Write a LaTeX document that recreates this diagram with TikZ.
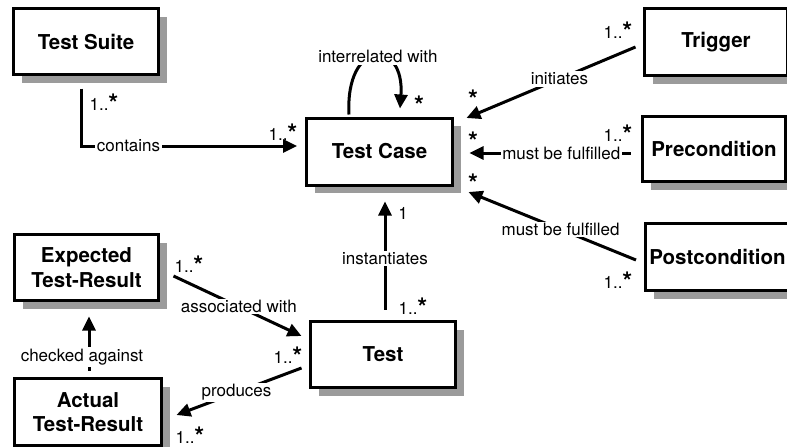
\documentclass[tikz,border=0pt]{standalone}
\usepackage{fontspec}
\setmainfont{TeX Gyre Heros}
\usetikzlibrary{arrows.meta,calc,shadows}
\definecolor{shadowgray}{RGB}{155,155,155}
\newcommand{\manystar}{\raisebox{-2.5pt}[\height][0pt]{\scalebox{1.5}{\bfseries *}}}
\begin{document}
\begin{tikzpicture}[x=1pt,y=-1pt,
  box/.style={draw, line width=3pt, fill=white, align=center,
    font=\fontsize{20.5}{24.5}\selectfont\bfseries,
    drop shadow={shadow xshift=8pt, shadow yshift=-8pt, fill=shadowgray, opacity=1}},
  conn/.style={line width=3pt, -{Triangle[length=14pt,width=13pt]}},
  lbl/.style={fill=white, inner sep=1.5pt, font=\fontsize{17}{20}\selectfont},
  mult/.style={inner sep=0pt, font=\fontsize{17}{20}\selectfont}]
\useasboundingbox (0,0) rectangle (787,447);

% boxes
\node[box, minimum width=145pt, minimum height=66pt] (ts) at (86,41.5) {Test Suite};
\node[box, minimum width=146pt, minimum height=67pt] (tc) at (379.5,151.5) {Test Case};
\node[box, minimum width=143pt, minimum height=67pt] (trig) at (716,42) {Trigger};
\node[box, minimum width=143pt, minimum height=65pt] (pre) at (714,149) {Precondition};
\node[box, minimum width=143pt, minimum height=67pt] (post) at (717.5,257) {Postcondition};
\node[box, minimum width=145pt, minimum height=66pt] (test) at (383,354.5) {Test};
\node[box, minimum width=144pt, minimum height=66pt] (exp) at (86.5,267.5) {Expected\\Test-Result};
\node[box, minimum width=147pt, minimum height=67pt] (act) at (88,412) {Actual\\Test-Result};

% connectors
\draw[conn] ($(ts.south)+(-5,12.5)$) |- node[lbl,pos=0.61]{contains} ($(tc.west)+(-8,-5.5)$);
\draw[conn] ($(tc.north)+(-30.5,-2)$) .. controls +(-4,-76) and +(5,-70) .. node[lbl,pos=0.5,xshift=3pt]{interrelated with} ($(tc.north)+(20.5,-8)$);
\draw[conn] ($(trig.west)+(-7.5,5)$) -- node[lbl,pos=0.45]{initiates} ($(tc.east)+(12.5,-33.5)$);
\draw[conn] ($(pre.west)+(-10.5,4)$) -- node[lbl,pos=0.43]{must be fulfilled} ($(tc.east)+(15.5,1.5)$);
\draw[conn] ($(post.west)+(-8.5,3)$) -- node[lbl,pos=0.45]{must be fulfilled} ($(tc.east)+(14.5,40.5)$);
\draw[conn] ($(test.north)+(2,-10.5)$) -- node[lbl,pos=0.47]{instantiates} ($(tc.south)+(5.5,15)$);
\draw[conn] ($(exp.east)+(13.5,8.5)$) -- node[lbl,pos=0.51]{associated with} ($(test.west)+(-7.5,-18.5)$);
\draw[conn] ($(test.west)+(-7.5,13.5)$) -- node[lbl,pos=0.52]{produces} ($(act.east)+(13.5,3)$);
\draw[conn] ($(act.north)+(1,-6.5)$) -- node[lbl,pos=0.25,xshift=-7pt]{checked against} ($(exp.south)+(2.5,14.5)$);

% multiplicities
\node[mult] (m1) at (104,101) {1..\manystar};
\node[mult] (m2) at (283,131) {1..\manystar};
\node[mult] (m3) at (419,103) {\manystar};
\node[mult] (m4) at (473,97) {\manystar};
\node[mult] (m5) at (618,29) {1..\manystar};
\node[mult] (m6) at (473,139) {\manystar};
\node[mult] (m7) at (618,132) {1..\manystar};
\node[mult] (m8) at (473,181) {\manystar};
\node[mult] (m9) at (618,279) {1..\manystar};
\node[mult] (m10) at (403,213) {1};
\node[mult] (m11) at (413,305) {1..\manystar};
\node[mult] (m12) at (189,263) {1..\manystar};
\node[mult] (m13) at (288,354) {1..\manystar};
\node[mult] (m14) at (190,434) {1..\manystar};
\end{tikzpicture}
\end{document}
